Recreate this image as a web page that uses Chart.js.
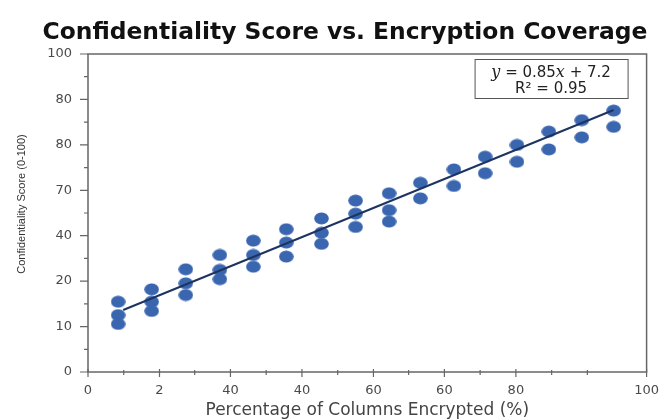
<!DOCTYPE html>
<html>
<head>
<meta charset="utf-8">
<script src="https://cdn.jsdelivr.net/npm/chart.js@4.4.1/dist/chart.umd.min.js"></script>
<style>
  html, body { margin: 0; padding: 0; background: #fff; }
  #wrap { width: 670px; height: 419px; }
</style>
</head>
<body>
<div id="wrap"><canvas id="chart_confScore"></canvas></div>
<script>
var chartTitle = 'Confidentiality Score vs. Encryption Coverage';
var xAxisTitle = 'Percentage of Columns Encrypted (%)';
var yAxisTitle = 'Confidentiality Score (0-100)';

// axis ticks as printed in the picture
var xTickValues = [0, 12.8, 25.5, 38.3, 51.1, 63.8, 76.6, 100];
var xTickLabels = ['0', '2', '40', '40', '60', '60', '80', '100'];
var xMinorTicks = [6.4, 19.1, 31.9, 44.7, 57.4, 70.2, 83.0, 89.4];
var yTickValues = [0, 14.3, 28.6, 42.9, 57.1, 71.4, 85.7, 100];
var yTickLabels = ['0', '10', '20', '40', '70', '80', '80', '100'];
var yMinorTicks = [7.1, 21.4, 35.7, 50, 64.3, 78.6, 92.9];

// scatter points
var encryptedPct = [
  5.4, 5.4, 5.4, 11.4, 11.4, 11.4, 17.5, 17.5, 17.5,
  23.6, 23.6, 23.6, 29.6, 29.6, 29.6, 35.5, 35.5, 35.5,
  41.8, 41.8, 41.8, 47.9, 47.9, 47.9, 53.9, 53.9, 53.9,
  59.5, 59.5, 65.5, 65.5, 71.1, 71.1, 76.8, 76.8,
  82.5, 82.5, 88.4, 88.4, 94.1, 94.1
];
var confScore = [
  22.1, 17.9, 15.1, 26.0, 22.1, 19.2, 32.3, 27.9, 24.2,
  36.8, 32.1, 29.2, 41.3, 36.8, 33.1, 44.9, 40.7, 36.3,
  48.3, 43.8, 40.3, 53.9, 49.8, 45.6, 56.2, 50.9, 47.3,
  59.5, 54.6, 63.7, 58.5, 67.7, 62.5, 71.4, 66.1,
  75.6, 70.0, 79.2, 73.8, 82.2, 77.1
];

// fitted line end points
var fitLineX = [6.3, 94.1];
var fitLineY = [19.5, 82.4];
var fitEquation = 'y = 0.85x + 7.2';
var fitR2 = 'R\u00b2 = 0.95';

var pointData = encryptedPct.map(function (x, i) { return { x: x, y: confScore[i] }; });
var lineData = fitLineX.map(function (x, i) { return { x: x, y: fitLineY[i] }; });

// slightly wide dot, like the picture
var dot = document.createElement('canvas');
dot.width = 15; dot.height = 13;
var dctx = dot.getContext('2d');
dctx.fillStyle = '#3a66b0';
dctx.beginPath();
dctx.ellipse(7.5, 6.5, 7.3, 5.9, 0, 0, Math.PI * 2);
dctx.fill();

var tickFont = { family: 'DejaVu Sans', size: 13 };

var chart_confScore = new Chart(document.getElementById('chart_confScore'), {
    type: 'scatter',
    data: {
        datasets: [
            {
                label: 'Columns',
                data: pointData,
                pointStyle: dot,
                pointRadius: 7,
                order: 2
            },
            {
                label: 'Fit',
                type: 'line',
                data: lineData,
                borderColor: '#1d3461',
                borderWidth: 2,
                pointRadius: 0,
                order: 1
            }
        ]
    },
    options: {
        animation: false,
        responsive: true,
        maintainAspectRatio: false,
        layout: { padding: { top: 54, right: 22, left: 0, bottom: 0 } },
        plugins: {
            legend: { display: false },
            tooltip: { enabled: false },
            title: { display: false }
        },
        scales: {
            x: {
                type: 'linear',
                min: 0,
                max: 100,
                afterBuildTicks: function (scale) {
                    scale.ticks = xTickValues.map(function (v) { return { value: v }; });
                },
                afterFit: function (scale) { scale.height = 47; },
                grid: { display: false, drawTicks: false },
                border: { display: false },
                ticks: {
                    autoSkip: false,
                    maxRotation: 0,
                    padding: 11,
                    color: '#4a4a4a',
                    font: tickFont,
                    callback: function (v, i) { return xTickLabels[i]; }
                },
                title: {
                    display: true,
                    text: xAxisTitle,
                    color: '#444',
                    font: { family: 'DejaVu Sans', size: 17 },
                    padding: { top: 0, bottom: -2 }
                }
            },
            y: {
                type: 'linear',
                min: 0,
                max: 100,
                afterBuildTicks: function (scale) {
                    scale.ticks = yTickValues.map(function (v) { return { value: v }; });
                },
                afterFit: function (scale) { scale.width = 88; },
                grid: { display: false, drawTicks: false },
                border: { display: false },
                ticks: {
                    autoSkip: false,
                    padding: 16,
                    color: '#4a4a4a',
                    font: tickFont,
                    callback: function (v, i) { return yTickLabels[i]; }
                },
                title: { display: false }
            }
        }
    },
    plugins: [{
        id: 'frameAndText',
        beforeDraw: function (chart) {
            var ctx = chart.ctx;
            ctx.save();
            ctx.fillStyle = 'white';
            ctx.fillRect(0, 0, chart.width, chart.height);
            ctx.restore();
        },
        afterDraw: function (chart) {
            var ctx = chart.ctx, a = chart.chartArea;
            var xs = chart.scales.x, ys = chart.scales.y;
            ctx.save();
            ctx.strokeStyle = '#666';
            ctx.lineWidth = 1.5;
            ctx.strokeRect(a.left, a.top, a.right - a.left, a.bottom - a.top);

            ctx.lineWidth = 1.2;
            ctx.beginPath();
            yTickValues.forEach(function (v) {
                var p = ys.getPixelForValue(v);
                ctx.moveTo(a.left - 8, p); ctx.lineTo(a.left, p);
            });
            yMinorTicks.forEach(function (v) {
                var p = ys.getPixelForValue(v);
                ctx.moveTo(a.left - 4, p); ctx.lineTo(a.left, p);
            });
            xTickValues.forEach(function (v) {
                var p = xs.getPixelForValue(v);
                ctx.moveTo(p, a.bottom - 3); ctx.lineTo(p, a.bottom + 5);
            });
            xMinorTicks.forEach(function (v) {
                var p = xs.getPixelForValue(v);
                ctx.moveTo(p, a.bottom - 2); ctx.lineTo(p, a.bottom + 3);
            });
            ctx.stroke();

            // main title
            ctx.fillStyle = '#111';
            ctx.font = 'bold 23.4px "DejaVu Sans"';
            ctx.textAlign = 'center';
            ctx.textBaseline = 'alphabetic';
            ctx.fillText(chartTitle, 345, 39);

            // y axis title
            ctx.save();
            ctx.translate(22, 204);
            ctx.rotate(-Math.PI / 2);
            ctx.font = '11px "Liberation Sans"';
            ctx.fillStyle = '#333';
            ctx.textAlign = 'center';
            ctx.textBaseline = 'middle';
            ctx.fillText(yAxisTitle, 0, 0);
            ctx.restore();

            // fit annotation box
            var bx = a.right - 172, by = a.top + 5, bw = 153, bh = 39;
            ctx.fillStyle = '#fff';
            ctx.fillRect(bx, by, bw, bh);
            ctx.strokeStyle = '#555';
            ctx.lineWidth = 1;
            ctx.strokeRect(bx + 0.5, by + 0.5, bw, bh);
            ctx.fillStyle = '#222';
            var cx = bx + bw / 2;
            // first line: italic y and x
            var parts = [
                ['y', 'italic 16px "DejaVu Serif"'],
                [fitEquation.slice(1, fitEquation.indexOf('x')), '15px "DejaVu Sans"'],
                ['x', 'italic 16px "DejaVu Serif"'],
                [fitEquation.slice(fitEquation.indexOf('x') + 1), '15px "DejaVu Sans"']
            ];
            var total = 0;
            parts.forEach(function (pt) { ctx.font = pt[1]; total += ctx.measureText(pt[0]).width; });
            var px = cx - total / 2;
            ctx.textAlign = 'left';
            ctx.textBaseline = 'alphabetic';
            parts.forEach(function (pt) {
                ctx.font = pt[1];
                ctx.fillText(pt[0], px, by + 18);
                px += ctx.measureText(pt[0]).width;
            });
            ctx.font = '15px "DejaVu Sans"';
            ctx.textAlign = 'center';
            ctx.fillText(fitR2, cx, by + 34);
            ctx.restore();
        }
    }]
});
</script>
</body>
</html>
